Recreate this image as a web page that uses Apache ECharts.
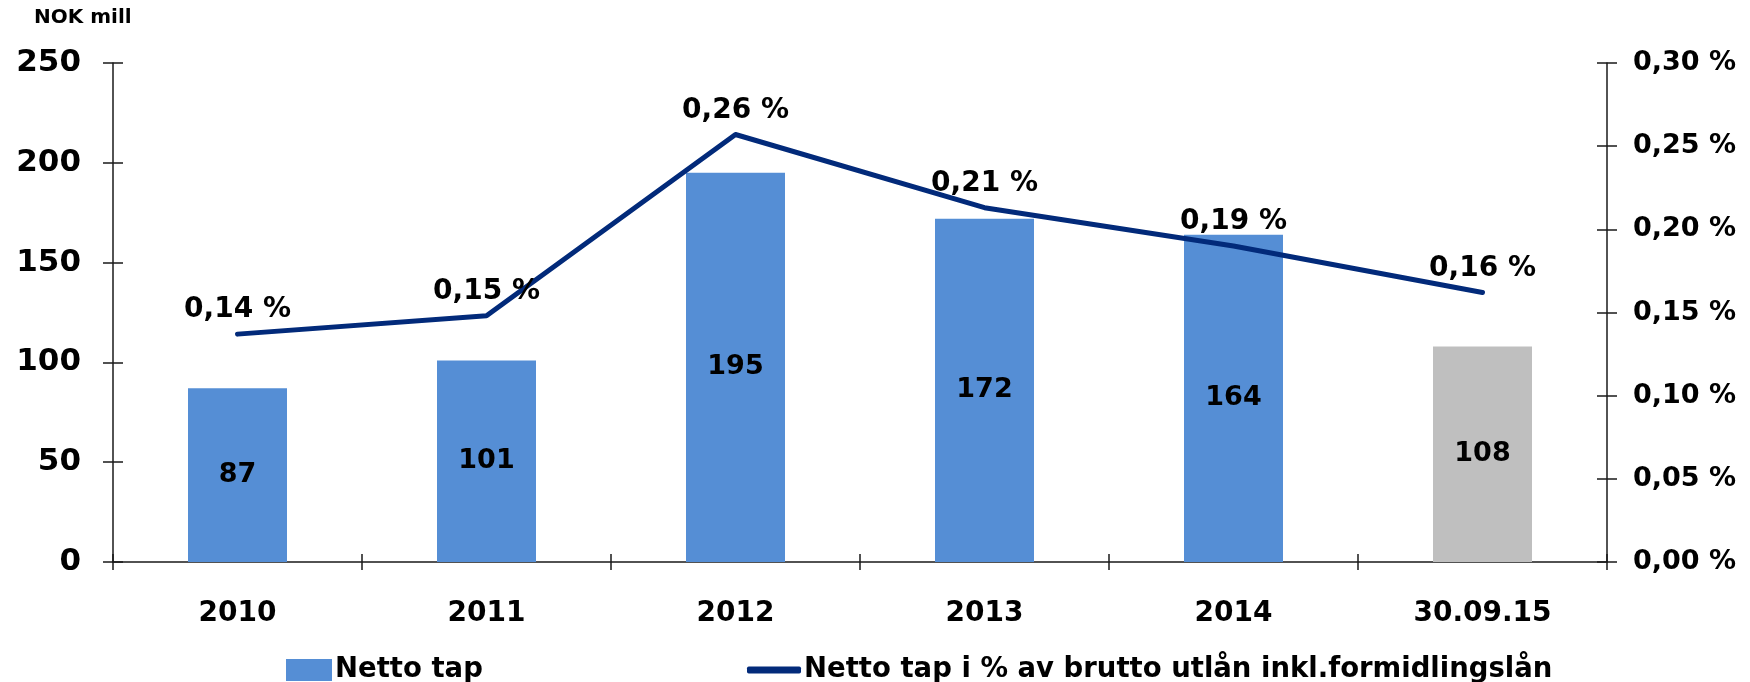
<!DOCTYPE html>
<html>
<head>
<meta charset="utf-8">
<script src="https://cdn.jsdelivr.net/npm/echarts@6/dist/echarts.min.js"></script>
<style>
html,body{margin:0;padding:0;background:#fff;}
#chart{width:1750px;height:682px;}
</style>
</head>
<body>
<div id="chart"></div>
<script>
const categories = ['2010', '2011', '2012', '2013', '2014', '30.09.15'];
const nettoTap = [87, 101, 195, 172, 164, 108];
const pctValues = [0.137, 0.148, 0.257, 0.213, 0.190, 0.162];
const pctLabels = ['0,14 %', '0,15 %', '0,26 %', '0,21 %', '0,19 %', '0,16 %'];
const leftTicks = { min: 0, max: 250, interval: 50 };
const rightTicks = { min: 0, max: 0.30, interval: 0.05 };
const seriesNames = ['Netto tap', 'Netto tap i % av brutto utlån inkl.formidlingslån'];

const FONT = 'DejaVu Sans';
const BLUE = '#558ED5';
const GREY = '#BFBFBF';
const NAVY = '#022A7A';
const AX = '#1a1a1a';

const chart = echarts.init(document.getElementById('chart'));

const barData = nettoTap.map((v, i) => i === categories.length - 1
  ? { value: v, itemStyle: { color: GREY } }
  : v);

const pctFmt = v => v.toFixed(2).replace('.', ',') + ' %';

const option = {
  animation: false,
  backgroundColor: '#fff',
  title: {
    text: 'NOK mill',
    left: 34, top: 8, padding: 0,
    textStyle: { fontFamily: FONT, fontWeight: 'bold', fontSize: 20, color: '#000' }
  },
  grid: { left: 113, right: 143, top: 63, bottom: 120, containLabel: false },
  legend: [
    {
      data: [seriesNames[0]],
      left: 281, top: 651,
      itemWidth: 46, itemHeight: 22, itemGap: 0,
      icon: 'rect',
      textStyle: { fontFamily: FONT, fontWeight: 'bold', fontSize: 27.5, color: '#000', padding: [0, 0, 0, -2] }
    },
    {
      data: [seriesNames[1]],
      left: 742, top: 651,
      itemWidth: 54, itemHeight: 7, itemGap: 0,
      icon: 'roundRect',
      textStyle: { fontFamily: FONT, fontWeight: 'bold', fontSize: 27.5, color: '#000', padding: [0, 0, 0, -2] }
    }
  ],
  xAxis: [
    {
      type: 'category', data: categories, position: 'bottom',
      axisLine: { show: true, lineStyle: { color: AX, width: 1.5 } },
      axisTick: { show: true, inside: false, length: 8, lineStyle: { color: AX, width: 1.5 } },
      axisLabel: { fontFamily: FONT, fontWeight: 'bold', fontSize: 28, color: '#000', margin: 38 },
      splitLine: { show: false }
    },
    {
      type: 'category', data: categories, position: 'bottom',
      axisLine: { show: false },
      axisTick: { show: true, inside: true, length: 8, lineStyle: { color: AX, width: 1.5 } },
      axisLabel: { show: false },
      splitLine: { show: false }
    }
  ],
  yAxis: [
    {
      type: 'value', position: 'left', min: leftTicks.min, max: leftTicks.max, interval: leftTicks.interval,
      axisLine: { show: true, lineStyle: { color: AX, width: 1.5 } },
      axisTick: { show: true, inside: false, length: 10, lineStyle: { color: AX, width: 1.5 } },
      axisLabel: { fontFamily: FONT, fontWeight: 'bold', fontSize: 31, color: '#000', margin: 32 },
      splitLine: { show: false }
    },
    {
      type: 'value', position: 'right', min: rightTicks.min, max: rightTicks.max, interval: rightTicks.interval,
      axisLine: { show: true, lineStyle: { color: AX, width: 1.5 } },
      axisTick: { show: true, inside: false, length: 10, lineStyle: { color: AX, width: 1.5 } },
      axisLabel: { fontFamily: FONT, fontWeight: 'bold', fontSize: 27, color: '#000', margin: 26, formatter: pctFmt },
      splitLine: { show: false }
    },
    {
      type: 'value', position: 'left', min: leftTicks.min, max: leftTicks.max, interval: leftTicks.interval,
      axisLine: { show: false },
      axisTick: { show: true, inside: true, length: 10, lineStyle: { color: AX, width: 1.5 } },
      axisLabel: { show: false },
      splitLine: { show: false }
    },
    {
      type: 'value', position: 'right', min: rightTicks.min, max: rightTicks.max, interval: rightTicks.interval,
      axisLine: { show: false },
      axisTick: { show: true, inside: true, length: 10, lineStyle: { color: AX, width: 1.5 } },
      axisLabel: { show: false },
      splitLine: { show: false }
    }
  ],
  series: [
    {
      name: seriesNames[0],
      type: 'bar',
      xAxisIndex: 0, yAxisIndex: 0,
      data: barData,
      barWidth: 99,
      itemStyle: { color: BLUE },
      label: {
        show: true, position: 'inside',
        fontFamily: FONT, fontWeight: 'bold', fontSize: 27, color: '#000'
      },
      z: 2
    },
    {
      name: seriesNames[1],
      type: 'line',
      xAxisIndex: 0, yAxisIndex: 1,
      data: pctValues,
      symbol: 'circle',
      symbolSize: 0.1,
      showSymbol: true,
      color: NAVY,
      itemStyle: { color: NAVY },
      lineStyle: { color: NAVY, width: 5, cap: 'round', join: 'round' },
      label: {
        show: true, position: 'top', distance: 10,
        fontFamily: FONT, fontWeight: 'bold', fontSize: 28, color: '#000',
        formatter: p => pctLabels[p.dataIndex]
      },
      labelLayout: { hideOverlap: false },
      z: 3
    }
  ]
};

chart.setOption(option);
</script>
</body>
</html>
